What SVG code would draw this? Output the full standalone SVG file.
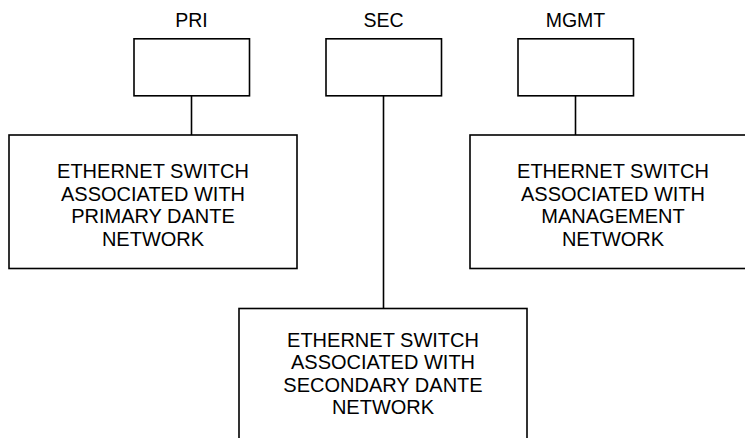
<svg xmlns="http://www.w3.org/2000/svg" width="745" height="438" viewBox="0 0 745 438">
<style>
.box{fill:#fff;stroke:#000;stroke-width:1.6}
.wire{stroke:#000;stroke-width:1.6;fill:none}
.lbl{font-family:"Liberation Sans",Arial,sans-serif;font-size:19.5px;fill:#000;text-anchor:middle}
.txt{font-family:"Liberation Sans",Arial,sans-serif;font-size:20px;fill:#000;text-anchor:middle}
</style>
<rect width="745" height="438" fill="#fff"/>
<g id="connectors">
<line class="wire" x1="191.5" y1="96" x2="191.5" y2="135"/>
<line class="wire" x1="383.5" y1="96" x2="383.5" y2="308.5"/>
<line class="wire" x1="575.5" y1="96" x2="575.5" y2="135"/>
</g>
<g id="pri">
<rect class="box" x="134" y="38.8" width="115.5" height="57"/>
<text class="lbl" x="191.5" y="26.5">PRI</text>
</g>
<g id="sec">
<rect class="box" x="326" y="38.8" width="115.5" height="57"/>
<text class="lbl" x="383.5" y="26.5">SEC</text>
</g>
<g id="mgmt">
<rect class="box" x="518" y="38.8" width="115.5" height="57"/>
<text class="lbl" x="575.5" y="26.5">MGMT</text>
</g>
<g id="switch-primary">
<rect class="box" x="9" y="135" width="288" height="133.5"/>
<text class="txt" x="153" y="178"><tspan x="153">ETHERNET SWITCH</tspan><tspan x="153" dy="22.5">ASSOCIATED WITH</tspan><tspan x="153" dy="22.5">PRIMARY DANTE</tspan><tspan x="153" dy="22.5">NETWORK</tspan></text>
</g>
<g id="switch-management">
<rect class="box" x="470" y="135" width="288" height="133.5"/>
<text class="txt" x="613" y="178"><tspan x="613">ETHERNET SWITCH</tspan><tspan x="613" dy="22.5">ASSOCIATED WITH</tspan><tspan x="613" dy="22.5">MANAGEMENT</tspan><tspan x="613" dy="22.5">NETWORK</tspan></text>
</g>
<g id="switch-secondary">
<rect class="box" x="239" y="308.5" width="288" height="133.5"/>
<text class="txt" x="383" y="346.5"><tspan x="383">ETHERNET SWITCH</tspan><tspan x="383" dy="22.5">ASSOCIATED WITH</tspan><tspan x="383" dy="22.5">SECONDARY DANTE</tspan><tspan x="383" dy="22.5">NETWORK</tspan></text>
</g>
</svg>
